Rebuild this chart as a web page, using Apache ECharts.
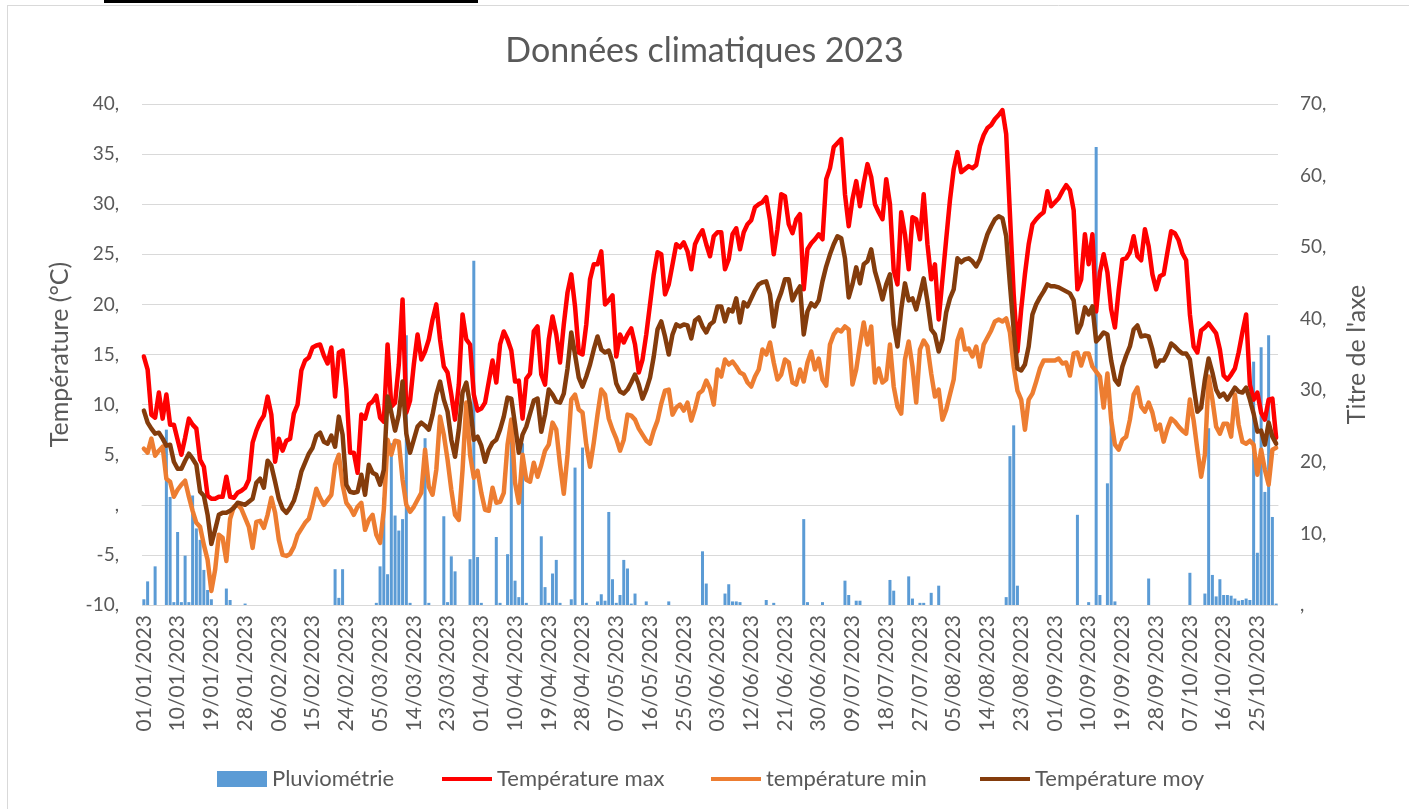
<!DOCTYPE html>
<html>
<head>
<meta charset="utf-8">
<script src="https://cdn.jsdelivr.net/npm/echarts@6/dist/echarts.min.js"></script>
<style>
  html, body { margin: 0; padding: 0; background: #fff; }
  #main { width: 1409px; height: 809px; }
</style>
</head>
<body>
<div id="main"></div>
<script type="text/javascript">
// Température max (°C), un point par jour depuis le 01/01/2023
var tmax = [
  14.8, 13.5, 9.0, 8.7, 11.2, 8.6, 11.0, 8.0, 8.0, 6.5,
  5.0, 6.7, 8.6, 8.0, 7.6, 4.5, 3.8, 0.9, 0.6, 0.6,
  0.8, 0.8, 2.8, 0.8, 0.7, 1.2, 1.4, 1.7, 2.5, 6.2,
  7.4, 8.3, 8.9, 10.8, 9.0, 4.3, 6.6, 5.4, 6.4, 6.6,
  9.1, 10.0, 13.4, 14.4, 14.7, 15.7, 15.9, 16.0, 14.9, 14.1,
  15.7, 10.8, 15.2, 15.4, 11.5, 5.2, 5.2, 3.2, 9.0, 8.6,
  10.0, 10.3, 10.9, 8.7, 8.3, 16.0, 9.8, 10.2, 14.0, 20.5,
  9.2, 10.4, 14.0, 17.0, 14.5, 15.3, 16.5, 18.5, 20.0, 16.5,
  13.8, 13.2, 11.0, 8.5, 12.0, 19.0, 16.5, 16.0, 11.0, 9.4,
  9.6, 10.2, 12.3, 14.4, 12.2, 16.0, 17.3, 16.5, 15.4, 12.3,
  12.4, 8.6, 12.6, 13.1, 17.3, 17.8, 13.0, 12.0, 16.5, 18.8,
  17.0, 14.2, 18.0, 21.2, 23.0, 19.8, 15.2, 15.0, 18.0, 22.5,
  24.0, 24.0, 25.3, 20.0, 20.4, 20.9, 14.8, 17.0, 16.2, 17.0,
  17.6, 16.0, 13.2, 14.5, 17.0, 20.0, 23.0, 25.2, 25.0, 21.0,
  22.0, 24.0, 26.0, 25.7, 26.2, 25.3, 23.5, 26.0, 26.8, 27.4,
  26.0, 24.8, 26.8, 27.2, 27.2, 23.5, 24.5, 27.0, 27.6, 25.5,
  27.2, 28.0, 28.4, 29.7, 30.0, 30.2, 30.7, 28.4, 25.0, 27.5,
  31.0, 30.8, 28.0, 27.1, 28.5, 29.0, 21.5, 25.5, 26.1, 26.5,
  27.0, 26.5, 32.5, 33.6, 35.7, 36.1, 36.5, 31.0, 27.8, 30.5,
  32.3, 29.8, 32.1, 34.0, 32.7, 30.0, 29.2, 28.5, 32.5, 30.0,
  23.4, 22.0, 29.2, 27.0, 23.5, 28.7, 28.5, 26.5, 31.0, 26.0,
  22.5, 24.0, 18.5, 22.5, 26.5, 30.4, 33.5, 35.2, 33.2, 33.5,
  33.8, 33.6, 33.9, 35.8, 36.9, 37.6, 37.9, 38.5, 38.9, 39.4,
  37.0, 29.0, 21.0, 15.3, 19.5, 23.0, 26.0, 28.0, 28.5, 28.9,
  29.2, 31.3, 29.8, 30.2, 30.6, 31.3, 31.9, 31.4, 29.4, 21.5,
  22.5, 27.0, 24.0, 27.0, 19.3, 23.2, 25.0, 23.2, 19.5, 17.7,
  21.4, 24.5, 24.6, 25.2, 26.8, 24.8, 24.4, 27.5, 25.8, 23.0,
  21.5, 22.8, 23.0, 25.2, 27.3, 27.1, 26.4, 25.1, 24.4, 19.0,
  15.8, 15.2, 17.4, 17.7, 18.1, 17.6, 17.1, 15.5, 12.9, 12.5,
  13.0, 13.6, 15.2, 17.2, 19.0, 12.0, 10.5, 11.2, 9.2, 8.5,
  10.5, 10.6, 6.7
];
// température min (°C)
var tmin = [
  5.6, 5.2, 6.6, 4.9, 5.4, 5.8, 2.6, 2.3, 0.8, 1.5,
  2.0, 2.4, 0.8, -0.6, -1.8, -2.2, -4.0, -5.5, -8.6, -6.5,
  -3.0, -3.3, -5.6, -1.4, -0.2, 0.0, -0.4, -1.3, -2.2, -4.3,
  -1.7, -1.6, -2.3, -1.0, 0.7, -0.8, -3.5, -5.0, -5.1, -4.9,
  -4.2, -3.0, -2.4, -1.8, -1.4, 0.0, 1.6, 0.7, 0.0, 0.5,
  1.0, 4.0, 5.0, 2.0, 0.2, -0.3, -1.0, -0.2, 0.2, -2.5,
  -1.5, -1.0, -3.0, -3.8, -0.5, 6.5, 5.0, 6.4, 6.3, 2.5,
  0.0, -0.7, -0.2, 0.5, 1.2, 5.5, 1.8, 1.0, 3.5, 8.8,
  7.0, 4.5, 1.5, -1.0, -1.5, 3.5, 10.2, 5.0, 2.7, 3.4,
  1.2, -0.5, -0.6, 1.7, 0.2, 0.3, 1.2, 6.0, 8.5, 2.2,
  0.2, 5.0, 2.5, 2.3, 4.2, 2.8, 4.0, 5.4, 6.0, 8.2,
  7.5, 4.0, 1.1, 5.0, 10.5, 11.0, 9.5, 9.2, 6.0, 3.8,
  6.2, 9.0, 11.5, 11.0, 8.6, 7.5, 6.6, 5.4, 6.5, 9.0,
  8.9, 8.5, 7.6, 7.0, 6.4, 6.1, 7.4, 8.4, 10.1, 11.4,
  11.5, 9.0, 9.7, 10.0, 9.4, 10.2, 8.4, 9.6, 11.1, 11.4,
  12.4, 11.6, 10.0, 13.5, 12.8, 14.5, 14.0, 14.3, 13.8, 13.2,
  13.0, 12.2, 11.8, 12.8, 13.5, 15.5, 15.0, 16.2, 14.2, 12.5,
  13.0, 14.5, 14.2, 12.2, 12.0, 13.5, 12.3, 14.2, 15.3, 13.5,
  14.6, 12.5, 11.9, 16.0, 17.0, 17.5, 17.3, 17.8, 17.5, 12.0,
  13.5, 16.0, 18.2, 16.0, 17.8, 12.2, 13.6, 12.2, 12.5, 16.0,
  11.8, 9.8, 9.1, 14.5, 16.3, 13.8, 10.2, 15.5, 16.4, 15.8,
  13.1, 10.8, 11.5, 8.5, 9.5, 11.0, 12.5, 16.4, 17.5, 15.5,
  15.6, 14.8, 15.8, 13.8, 16.0, 16.7, 17.4, 18.3, 18.5, 18.3,
  18.6, 17.2, 13.8, 11.4, 10.5, 7.5, 10.5, 11.1, 12.3, 13.6,
  14.4, 14.4, 14.4, 14.4, 14.6, 14.1, 14.2, 12.9, 15.1, 15.2,
  13.9, 15.1, 15.1, 13.8, 13.3, 12.8, 9.7, 13.1, 8.5, 6.0,
  5.5, 6.5, 6.8, 8.5, 11.0, 11.7, 9.8, 9.3, 10.2, 9.2,
  7.5, 8.0, 6.3, 7.6, 8.6, 8.3, 7.8, 7.4, 7.1, 10.5,
  8.4, 5.5, 2.8, 5.0, 12.8, 10.5, 7.8, 7.1, 8.1, 8.1,
  6.8, 11.0, 8.0, 6.3, 6.1, 6.4, 6.0, 3.0, 5.5, 3.5,
  2.0, 5.5, 5.7
];
// Température moy (°C)
var tmoy = [
  9.4, 8.2, 7.6, 7.1, 7.2, 6.6, 5.9, 6.0, 4.3, 3.6,
  3.6, 4.4, 5.1, 4.6, 4.0, 1.3, 0.9, -1.0, -3.9, -2.5,
  -1.0, -0.8, -0.8, -0.6, -0.3, 0.2, 0.1, 0.0, 0.3, 0.6,
  2.2, 2.6, 1.7, 4.4, 3.9, 2.3, 0.6, -0.4, -0.8, -0.3,
  0.4, 1.7, 3.3, 4.2, 5.1, 5.7, 6.9, 7.2, 6.3, 6.1,
  6.9, 5.8, 8.8, 7.0, 2.0, 1.3, 1.2, 1.3, 3.0, 1.0,
  4.0, 3.2, 3.0, 2.0, 3.5, 10.8, 9.2, 7.4, 9.0, 12.3,
  7.1, 5.2, 6.5, 7.8, 8.2, 7.9, 7.5, 9.0, 11.0, 12.3,
  10.5, 9.3, 6.5, 4.8, 7.5, 11.2, 12.2, 10.0, 6.5, 6.8,
  5.9, 4.3, 5.5, 6.2, 6.5, 7.5, 8.8, 10.7, 10.6, 8.0,
  5.2, 7.0, 7.8, 9.1, 10.4, 10.6, 7.3, 9.0, 11.5, 11.0,
  10.3, 10.2, 11.1, 13.6, 17.2, 15.0, 12.7, 11.8, 12.8, 14.0,
  15.5, 16.8, 15.5, 15.2, 15.4, 14.2, 12.1, 11.3, 11.1, 11.5,
  12.2, 13.0, 12.0, 10.6, 11.5, 12.7, 14.8, 17.5, 18.3, 16.8,
  15.0, 17.0, 18.0, 17.8, 18.0, 17.9, 16.6, 18.4, 18.7, 17.8,
  17.2, 18.0, 18.3, 19.8, 19.8, 18.3, 19.5, 19.3, 20.6, 18.2,
  20.2, 19.8, 20.6, 21.4, 22.0, 22.2, 22.3, 21.0, 17.8, 20.2,
  21.2, 22.5, 22.5, 20.4, 21.2, 21.8, 17.0, 19.3, 20.1, 19.8,
  20.4, 22.3, 23.8, 25.0, 26.0, 26.8, 26.6, 24.6, 20.7, 22.0,
  23.7, 22.1, 24.0, 24.3, 25.5, 23.3, 22.0, 20.5, 22.0, 23.0,
  18.0, 15.8, 19.5, 22.1, 20.4, 20.6, 19.5, 21.0, 22.6, 20.3,
  17.5, 17.0, 15.3, 16.5, 19.2, 20.6, 21.5, 24.6, 24.2, 24.5,
  24.6, 24.3, 23.8, 24.5, 25.8, 27.0, 27.8, 28.5, 28.8, 28.6,
  26.8, 22.0, 17.5, 13.6, 13.4, 14.0, 15.8, 19.0, 20.0, 20.7,
  21.3, 22.0, 21.8, 21.8, 21.7, 21.5, 21.3, 21.1, 20.4, 17.2,
  18.0, 19.7, 19.0, 19.8, 16.3, 16.7, 17.2, 17.0, 14.4, 12.5,
  12.0, 13.8, 14.9, 15.8, 17.5, 17.9, 16.8, 16.9, 16.8, 15.5,
  13.8, 14.4, 14.4, 15.1, 16.1, 15.8, 15.4, 15.1, 15.1, 14.5,
  11.8, 9.3, 9.7, 12.5, 14.6, 13.2, 11.5, 10.8, 11.1, 10.5,
  11.1, 11.7, 11.3, 11.2, 11.7, 10.5, 9.1, 7.3, 7.4, 6.0,
  8.2, 6.8, 6.1
];
// Pluviométrie (mm), axe de droite
var pluie = [
  0.8, 3.3, 0, 5.4, 0, 0, 24.5, 15.1, 0.4, 10.2,
  0.4, 6.9, 0.4, 15.3, 10.7, 9.1, 4.9, 2.1, 0.8, 0,
  0, 0, 2.3, 0.7, 0, 0, 0, 0.2, 0, 0,
  0, 0, 0, 0, 0, 0, 0, 0, 0, 0,
  0, 0, 0, 0, 0, 0, 0, 0, 0, 0,
  0, 5.0, 1.0, 5.0, 0, 0, 0, 0, 0, 0,
  0, 0, 0.3, 5.4, 15, 4.3, 22.6, 12.5, 10.4, 12,
  37.7, 0.3, 0, 0, 0, 23.3, 0.3, 0, 0, 0,
  12.4, 0.4, 6.8, 4.7, 0, 0, 0, 6.4, 48.1, 6.7,
  0.3, 0, 0, 0, 9.5, 0.3, 0, 7.1, 23.5, 3.4,
  1.1, 22.6, 0.3, 0, 0, 0, 9.6, 2.5, 0.3, 4.4,
  6.3, 0.3, 0, 0, 0.8, 19.2, 0, 22.0, 0.3, 0,
  0, 0.5, 1.5, 0.6, 13.0, 3.6, 0.3, 1.4, 6.3, 5.1,
  0.2, 1.6, 0, 0, 0.5, 0, 0, 0, 0, 0,
  0.5, 0, 0, 0, 0, 0, 0, 0, 0, 7.5,
  3.0, 0, 0, 0, 0, 1.6, 2.9, 0.5, 0.5, 0.4,
  0, 0, 0, 0, 0, 0, 0.7, 0, 0.3, 0,
  0, 0, 0, 0, 0, 0, 12.0, 0.4, 0, 0,
  0, 0.4, 0, 0, 0, 0, 0, 3.4, 1.4, 0,
  0.6, 0.6, 0, 0, 0, 0, 0, 0, 0, 3.5,
  2.0, 0, 0, 0, 4.0, 0.9, 0, 0.3, 0.3, 0,
  1.7, 0, 2.7, 0, 0, 0, 0, 0, 0, 0,
  0, 0, 0, 0, 0, 0, 0, 0, 0, 0,
  1.1, 20.8, 25.1, 2.7, 0, 0, 0, 0, 0, 0,
  0, 0, 0, 0, 0, 0, 0, 0, 0, 12.6,
  0, 0, 0.4, 0, 64, 1.4, 0, 17, 27, 0.5,
  0, 0, 0, 0, 0, 0, 0, 0, 3.7, 0,
  0, 0, 0, 0, 0, 0, 0, 0, 0, 4.5,
  0, 0, 0, 1.6, 24.7, 4.2, 1.2, 3.6, 1.4, 1.4,
  1.3, 0.9, 0.6, 0.7, 0.9, 0.7, 34, 7.3, 36, 15.8,
  37.7, 12.3, 0.2
];
var nomsSeries = ['Pluviométrie', 'Température max', 'température min', 'Température moy'];
var couleurs = ['#5B9BD5', '#FF0000', '#ED7D31', '#843C0C'];

// dates jj/mm/aaaa, une par valeur
var dates = [];
for (var i = 0; i < tmax.length; i++) {
  var d = new Date(Date.UTC(2023, 0, 1 + i));
  dates.push(('0' + d.getUTCDate()).slice(-2) + '/' + ('0' + (d.getUTCMonth() + 1)).slice(-2) + '/' + d.getUTCFullYear());
}

var police = 'Lato, "Liberation Sans", sans-serif';
var gris = '#595959';
function etiquette(v) { return v === 0 ? ',' : v + ','; }

var chart = echarts.init(document.getElementById('main'));
var legendeTexte = { color: gris, fontSize: 22, fontFamily: police };

chart.setOption({
  animation: false,
  title: {
    text: 'Données climatiques 2023',
    left: 'center', top: 29,
    textStyle: { color: gris, fontSize: 34, fontWeight: 'normal', fontFamily: police }
  },
  grid: { left: 142, right: 131, top: 104, bottom: 204 },
  legend: [
    { data: [nomsSeries[0]], left: 212, top: 763, itemWidth: 50, itemHeight: 16, itemGap: 6, icon: 'rect', textStyle: legendeTexte },
    { data: [nomsSeries[1]], left: 437, top: 763, itemWidth: 50, itemHeight: 4, icon: 'rect', textStyle: legendeTexte },
    { data: [nomsSeries[2]], left: 706, top: 763, itemWidth: 50, itemHeight: 4, icon: 'rect', textStyle: legendeTexte },
    { data: [nomsSeries[3]], left: 975, top: 763, itemWidth: 50, itemHeight: 4, icon: 'rect', textStyle: legendeTexte }
  ],
  xAxis: {
    type: 'category',
    data: dates,
    axisLine: { lineStyle: { color: '#d9d9d9', width: 1 } },
    axisTick: { show: false },
    axisLabel: { interval: 8, rotate: 90, margin: 10, color: gris, fontSize: 21, fontFamily: police }
  },
  yAxis: [
    {
      type: 'value', min: -10, max: 40, interval: 5,
      name: 'Température (°C)', nameLocation: 'middle', nameRotate: 90, nameGap: 70,
      nameTextStyle: { color: gris, fontSize: 25, fontFamily: police },
      axisLine: { show: false }, axisTick: { show: false },
      splitLine: { lineStyle: { color: '#d9d9d9', width: 1 } },
      axisLabel: { formatter: etiquette, margin: 23, color: gris, fontSize: 19, fontFamily: police }
    },
    {
      type: 'value', min: 0, max: 70, interval: 10,
      name: "Titre de l'axe", nameLocation: 'middle', nameRotate: 90, nameGap: 66,
      nameTextStyle: { color: gris, fontSize: 25, fontFamily: police },
      axisLine: { show: false }, axisTick: { show: false },
      splitLine: { show: false },
      axisLabel: { formatter: etiquette, margin: 22, color: gris, fontSize: 19, fontFamily: police }
    }
  ],
  series: [
    { name: nomsSeries[0], type: 'bar', yAxisIndex: 1, data: pluie, barCategoryGap: '20%',
      itemStyle: { color: couleurs[0] } },
    { name: nomsSeries[1], type: 'line', data: tmax, showSymbol: false, symbol: 'none',
      lineStyle: { color: couleurs[1], width: 4.5, join: 'round', cap: 'round' }, itemStyle: { color: couleurs[1] } },
    { name: nomsSeries[2], type: 'line', data: tmin, showSymbol: false, symbol: 'none',
      lineStyle: { color: couleurs[2], width: 4.5, join: 'round', cap: 'round' }, itemStyle: { color: couleurs[2] } },
    { name: nomsSeries[3], type: 'line', data: tmoy, showSymbol: false, symbol: 'none',
      lineStyle: { color: couleurs[3], width: 4.5, join: 'round', cap: 'round' }, itemStyle: { color: couleurs[3] } }
  ],
  graphic: [
    { type: 'rect', shape: { x: 104, y: 0, width: 374, height: 3 }, style: { fill: '#000' }, silent: true },
    { type: 'line', shape: { x1: 7.5, y1: 5, x2: 7.5, y2: 809 }, style: { stroke: '#d9d9d9', lineWidth: 1 }, silent: true },
    { type: 'line', shape: { x1: 7, y1: 5.5, x2: 1409, y2: 5.5 }, style: { stroke: '#d9d9d9', lineWidth: 1 }, silent: true }
  ]
});
</script>
</body>
</html>
